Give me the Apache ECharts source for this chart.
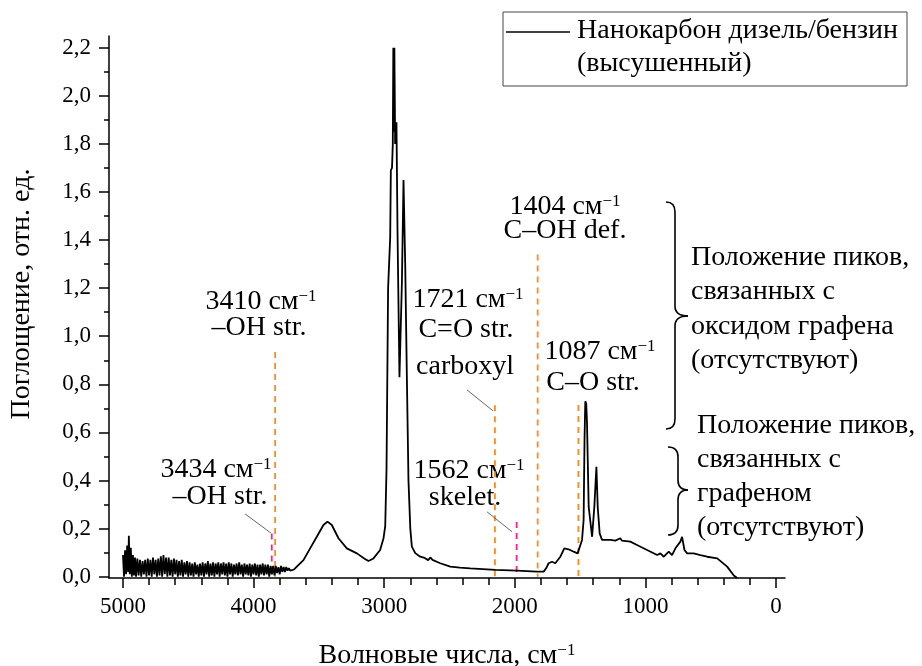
<!DOCTYPE html>
<html>
<head>
<meta charset="utf-8">
<script src="https://cdn.jsdelivr.net/npm/echarts@6/dist/echarts.min.js"></script>
<style>
  html, body { margin: 0; padding: 0; background: #fff; }
  #chart { width: 922px; height: 666px; }
</style>
</head>
<body>
<div id="chart"></div>
<script>
// noisy baseline, 5000 – 3730 cm-1
const noiseWn = [5000, 4992, 4984, 4976, 4968, 4960, 4955, 4948, 4940, 4932, 4924, 4916, 4908, 4900,
  4890, 4880, 4870, 4860, 4850, 4840, 4830, 4820, 4810, 4800, 4790, 4780, 4770, 4760, 4750, 4740,
  4730, 4720, 4710, 4700, 4690, 4680, 4670, 4660, 4650, 4640, 4630, 4620, 4610, 4600, 4590, 4580,
  4570, 4560, 4550, 4540, 4530, 4520, 4510, 4500, 4490, 4480, 4470, 4460, 4450, 4440, 4430, 4420,
  4410, 4400, 4390, 4380, 4370, 4360, 4350, 4340, 4330, 4320, 4310, 4300, 4290, 4280, 4270, 4260,
  4250, 4240, 4230, 4220, 4210, 4200, 4190, 4180, 4170, 4160, 4150, 4140, 4130, 4120, 4110, 4100,
  4090, 4080, 4070, 4060, 4050, 4040, 4030, 4020, 4010, 4000, 3990, 3980, 3970, 3960, 3950, 3940,
  3930, 3920, 3910, 3900, 3890, 3880, 3870, 3860, 3850, 3840, 3830, 3820, 3810, 3800, 3790, 3780,
  3770, 3760, 3750, 3740, 3730]
const noiseAbs = [0.09, 0, 0.11, 0.01, 0.13, 0.02, 0.17, 0.01, 0.12, 0, 0.09, 0.005, 0.08, 0,
  0.075, 0.005, 0.07, 0, 0.065, 0.01, 0.07, 0, 0.075, 0.005, 0.07, 0, 0.08, 0.01, 0.07, 0,
  0.075, 0.005, 0.085, 0, 0.09, 0.01, 0.08, 0, 0.08, 0.005, 0.07, 0, 0.075, 0.01, 0.07, 0,
  0.065, 0.005, 0.07, 0, 0.06, 0.01, 0.065, 0, 0.06, 0.005, 0.055, 0, 0.06, 0.01, 0.05, 0,
  0.055, 0.005, 0.06, 0, 0.055, 0.01, 0.065, 0, 0.055, 0.005, 0.06, 0, 0.055, 0.01, 0.06, 0,
  0.055, 0.01, 0.06, 0.005, 0.055, 0, 0.06, 0.01, 0.055, 0, 0.05, 0.01, 0.055, 0.005, 0.06, 0.01,
  0.05, 0, 0.055, 0.01, 0.05, 0.005, 0.055, 0, 0.05, 0.01, 0.055, 0.005, 0.05, 0, 0.05, 0.01,
  0.055, 0.005, 0.05, 0.01, 0.05, 0, 0.045, 0.01, 0.045, 0.005, 0.045, 0.015, 0.04, 0.01, 0.045, 0.02,
  0.04, 0.02, 0.04, 0.025, 0.035]

// O-H band and C-H stretch
const bandWn = [3720, 3690, 3669, 3618, 3567, 3516, 3465, 3434, 3401, 3350, 3286, 3209, 3150, 3120,
  3082, 3031, 3005, 2992, 2982, 2970, 2954, 2949, 2940, 2934, 2930, 2926, 2922, 2916, 2906, 2898,
  2883, 2864, 2852, 2839, 2826, 2814, 2800, 2788, 2762, 2724, 2690, 2663, 2647, 2630, 2571, 2494,
  2420, 2341, 2149, 1983, 1830, 1779]
const bandAbs = [0.025, 0.03, 0.042, 0.069, 0.118, 0.166, 0.215, 0.229, 0.215, 0.16, 0.118, 0.097, 0.075, 0.065,
  0.076, 0.111, 0.16, 0.21, 0.45, 1.2, 1.41, 1.69, 1.7, 1.8, 2.2, 1.85, 2.2, 1.8, 1.89, 1.44,
  0.83, 1.23, 1.65, 1.3, 0.82, 0.4, 0.2, 0.125, 0.098, 0.083, 0.078, 0.069, 0.08, 0.07, 0.056, 0.042,
  0.038, 0.035, 0.028, 0.025, 0.021, 0.021]

// fingerprint region
const fpWn = [1760, 1741, 1715, 1690, 1651, 1621, 1588, 1549, 1519, 1485, 1473, 1466, 1460, 1453,
  1447, 1434, 1408, 1391, 1375, 1365, 1350, 1332, 1268, 1230, 1192, 1180, 1115, 1064, 987, 910,
  885, 859, 821, 796, 770, 732, 719, 701, 680, 630, 579, 527, 450, 374, 323, 297]
const fpAbs = [0.035, 0.056, 0.062, 0.056, 0.083, 0.118, 0.114, 0.104, 0.097, 0.153, 0.236, 0.57, 0.73, 0.72,
  0.64, 0.29, 0.166, 0.29, 0.457, 0.29, 0.18, 0.153, 0.153, 0.15, 0.16, 0.15, 0.146, 0.132, 0.111, 0.09,
  0.097, 0.083, 0.104, 0.09, 0.118, 0.146, 0.166, 0.111, 0.097, 0.097, 0.09, 0.083, 0.076, 0.042, 0.005, -0.005]

// axis ticks
const xMajor = [5000, 4000, 3000, 2000, 1000, 0]
const xMinor = [5000, 4800, 4600, 4400, 4200, 4000, 3800, 3600, 3400, 3200, 3000, 2800, 2600, 2400,
  2200, 2000, 1800, 1600, 1400, 1200, 1000, 800, 600, 400, 200, 0]
const yMajor = [0, 0.2, 0.4, 0.6, 0.8, 1.0, 1.2, 1.4, 1.6, 1.8, 2.0, 2.2]
const yMinor = [0, 0.1, 0.2, 0.3, 0.4, 0.5, 0.6, 0.7, 0.8, 0.9, 1.0, 1.1, 1.2, 1.3, 1.4, 1.5, 1.6,
  1.7, 1.8, 1.9, 2.0, 2.1, 2.2]

// dashed peak-position markers (wavenumber, top of line, colour kind)
const markerWn = [3835, 3861, 2152, 1986, 1825, 1513]
const markerTop = [0.934, 0.18, 0.713, 0.227, 1.34, 0.714]
const markerKind = ['oxide', 'graphene', 'oxide', 'graphene', 'oxide', 'oxide']

// thin leader lines from labels to markers
const leaderFrom = [[4065, 0.261], [2366, 0.777], [2213, 0.27]]
const leaderTo = [[3868, 0.182], [2167, 0.69], [2021, 0.187]]

const FONT = 'Liberation Serif'
const markerColor = { oxide: '#ff8a1e', graphene: '#ff1e8c' }

const zip = (xs, ys) => xs.map((x, i) => [x, ys[i]])
const spectrum = zip(noiseWn, noiseAbs).concat(zip(bandWn, bandAbs), zip(fpWn, fpAbs))

const chart = echarts.init(document.getElementById('chart'), null, { renderer: 'canvas' })

const series = [
  {
    name: 'Нанокарбон дизель/бензин (высушенный)',
    type: 'line',
    data: spectrum,
    showSymbol: false,
    lineStyle: { color: '#000', width: 1.8 },
    z: 5
  }
]
markerWn.forEach((w, i) => {
  series.push({
    type: 'line',
    data: [[w, markerTop[i]], [w, 0]],
    showSymbol: false,
    silent: true,
    lineStyle: { color: markerColor[markerKind[i]], width: 1.8, type: [6, 5] },
    z: 4
  })
})
leaderFrom.forEach((p, i) => {
  series.push({
    type: 'line',
    data: [p, leaderTo[i]],
    showSymbol: false,
    silent: true,
    lineStyle: { color: '#555', width: 0.9 },
    z: 4
  })
})

const rich = {
  n: { fontFamily: FONT, fontSize: 28, color: '#000' },
  s: { fontFamily: FONT, fontSize: 17, color: '#000', verticalAlign: 'top', padding: [0, 0, 8, 0] }
}
function wnText(num, x, y) {
  return {
    type: 'text', x: x, y: y,
    style: { text: '{n|' + num + ' см}{s|−1}', rich: rich, align: 'center', verticalAlign: 'middle' }
  }
}
function plainText(t, x, y, align, size) {
  return {
    type: 'text', x: x, y: y,
    style: {
      text: t, fill: '#000', font: (size || 28) + 'px "' + FONT + '"',
      align: align || 'center', verticalAlign: 'middle'
    }
  }
}
const braceStyle = { stroke: '#000', lineWidth: 1.6, fill: null }
function curve(x1, y1, cx, cy, x2, y2) {
  return { type: 'bezierCurve', shape: { x1: x1, y1: y1, cpx1: cx, cpy1: cy, x2: x2, y2: y2 }, style: braceStyle }
}
function seg(x1, y1, x2, y2) {
  return { type: 'line', shape: { x1: x1, y1: y1, x2: x2, y2: y2 }, style: braceStyle }
}
function brace(x0, stem, tip, top, mid, bottom) {
  const r = 10
  return [
    curve(x0, top, stem, top, stem, top + r),
    seg(stem, top + r, stem, mid - r),
    curve(stem, mid - r, stem, mid, tip, mid),
    curve(tip, mid, stem, mid, stem, mid + r),
    seg(stem, mid + r, stem, bottom - r),
    curve(stem, bottom - r, stem, bottom, x0, bottom)
  ]
}

const graphic = [
  // legend
  { type: 'rect', shape: { x: 503, y: 12, width: 404, height: 74 }, style: { stroke: '#444', lineWidth: 1, fill: null } },
  { type: 'line', shape: { x1: 506, y1: 32, x2: 570, y2: 32 }, style: { stroke: '#000', lineWidth: 1.6 } },
  plainText('Нанокарбон дизель/бензин', 577, 31, 'left', 28),
  plainText('(высушенный)', 577, 64, 'left', 28),
  // y title
  {
    type: 'text', x: 22, y: 294, rotation: Math.PI / 2,
    style: { text: 'Поглощение, отн. ед.', fill: '#000', font: '28px "' + FONT + '"', align: 'center', verticalAlign: 'middle' }
  },
  // peak labels
  wnText(3410, 261, 302), plainText('–OH str.', 259, 328),
  wnText(3434, 216, 470), plainText('–OH str.', 220, 497),
  wnText(1721, 468, 300), plainText('C=O str.', 466, 330), plainText('carboxyl', 465, 367),
  wnText(1562, 469, 471), plainText('skelet.', 465, 498),
  wnText(1404, 565, 207), plainText('C–OH def.', 565, 231),
  wnText(1087, 600, 352), plainText('C–O str.', 593, 383),
  // notes
  plainText('Положение пиков,', 691, 258, 'left', 28),
  plainText('связанных с', 691, 292, 'left', 28),
  plainText('оксидом графена', 691, 327, 'left', 28),
  plainText('(отсутствуют)', 691, 361, 'left', 28),
  plainText('Положение пиков,', 697, 426, 'left', 28),
  plainText('связанных с', 697, 460, 'left', 28),
  plainText('графеном', 697, 494, 'left', 28),
  plainText('(отсутствуют)', 697, 528, 'left', 28)
].concat(brace(666, 675, 688, 202, 316, 429), brace(668, 678, 688, 447, 490, 535))

const axisBlack = { lineStyle: { color: '#000', width: 1.5 } }
const fmtComma = v => v.toFixed(1).replace('.', ',')

chart.setOption({
  animation: false,
  backgroundColor: '#fff',
  grid: { left: 109, right: 137, top: 36, bottom: 88, containLabel: false, outerBoundsMode: 'none' },
  xAxis: [
    {
      type: 'value', inverse: true, min: -69, max: 5107,
      name: '{a|Волновые числа, см}{b|−1}',
      nameLocation: 'middle', nameGap: 64,
      nameTextStyle: {
        rich: {
          a: { fontFamily: FONT, fontSize: 28, color: '#000' },
          b: { fontFamily: FONT, fontSize: 17, color: '#000', verticalAlign: 'top', padding: [0, 0, 8, 0] }
        }
      },
      axisLine: { show: true, onZero: false, ...axisBlack },
      axisTick: { show: true, length: 10, customValues: xMajor, ...axisBlack },
      axisLabel: { customValues: xMajor, formatter: v => String(v), color: '#000', fontFamily: FONT, fontSize: 23, margin: 17 },
      splitLine: { show: false }
    },
    {
      type: 'value', inverse: true, min: -69, max: 5107, position: 'bottom', gridIndex: 0,
      axisLine: { show: false, onZero: false },
      axisTick: { show: true, length: 7, customValues: xMinor, ...axisBlack },
      axisLabel: { show: false },
      splitLine: { show: false }
    }
  ],
  yAxis: [
    {
      type: 'value', min: -0.0054, max: 2.2486,
      axisLine: { show: true, onZero: false, ...axisBlack },
      axisTick: { show: true, length: 10, customValues: yMajor, ...axisBlack },
      axisLabel: { customValues: yMajor, formatter: fmtComma, color: '#000', fontFamily: FONT, fontSize: 23, margin: 18 },
      splitLine: { show: false }
    },
    {
      type: 'value', min: -0.0054, max: 2.2486, position: 'left', gridIndex: 0,
      axisLine: { show: false, onZero: false },
      axisTick: { show: true, length: 5, customValues: yMinor, ...axisBlack },
      axisLabel: { show: false },
      splitLine: { show: false }
    }
  ],
  series: series,
  graphic: graphic
})
</script>
</body>
</html>
